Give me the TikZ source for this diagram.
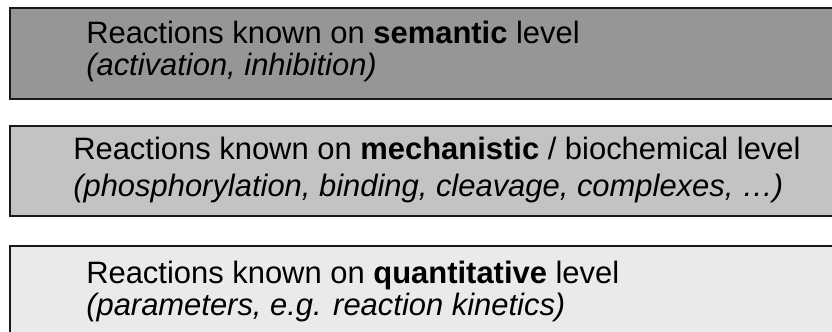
\documentclass[tikz,border=0pt]{standalone}
\usepackage{fontspec}
\setmainfont{Liberation Sans}
\definecolor{semcolor}{HTML}{969696}
\definecolor{mechcolor}{HTML}{C3C3C3}
\definecolor{quantcolor}{HTML}{EAEAEA}
\usetikzlibrary{positioning}

\begin{document}
\begin{tikzpicture}[x=0.75pt, y=-0.75pt,
    levelbox/.style={draw=black!90, line width=1.4pt, anchor=north west, inner sep=0pt,
      minimum width=640pt},
    leveltext/.style={anchor=base west, inner sep=0pt, font=\fontsize{23.2}{28}\selectfont}]
  \useasboundingbox (0,0) rectangle (832,332);
  \clip (0,0) rectangle (832,332);

  % Ebenen
  \node[levelbox, fill=semcolor, minimum height=68.25pt] (sem) at (9,7) {};
  \node[levelbox, fill=mechcolor, minimum height=67.5pt] (mech) at (9,125) {};
  \node[levelbox, fill=quantcolor, minimum height=80pt] (quant) at (9,245) {};

  % Beschriftung
  \node[leveltext] (semhead) at (86,43) {Reactions known on \textbf{semantic} level};
  \node[leveltext] (semsub) at (86,75) {\itshape (activation, inhibition)};

  \node[leveltext] (mechhead) at (73,159) {Reactions known on \textbf{mechanistic} / biochemical level};
  \node[leveltext] (mechsub) at (73,196) {\itshape (phosphorylation, binding, cleavage, complexes, …)};

  \node[leveltext] (quanthead) at (86,283) {Reactions known on \textbf{quantitative} level};
  \node[leveltext] (quantsub) at (86,315) {\itshape (parameters, e.g. reaction kinetics)};
\end{tikzpicture}
\end{document}
